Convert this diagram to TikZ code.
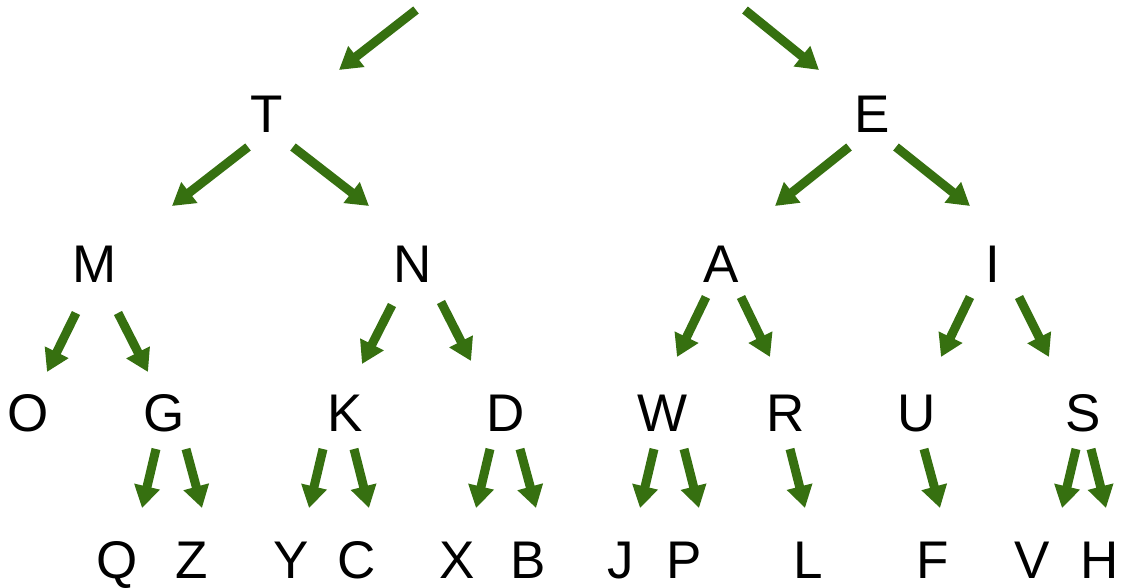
\documentclass[tikz,border=0pt]{standalone}
\usepackage{fontspec}
\setmainfont{Liberation Sans}
\usetikzlibrary{arrows.meta,calc}
\definecolor{arrgreen}{RGB}{54,112,16}
\newcommand\arr[4]{\draw[arrline] ($(#1)+(#2)$) -- ($(#3)+(#4)$);}
\begin{document}
\begin{tikzpicture}[x=1pt,y=-1pt,
  letter/.style={inner sep=0pt,text height=38pt,text depth=0pt,font=\fontsize{53}{60}\selectfont},
  arrline/.style={draw=arrgreen,line width=9pt,-{Triangle[width=25pt,length=22pt]}}]
\useasboundingbox (0,0) rectangle (1125,588);
% level 1
\node[letter] (T) at (267,114) {T};
\node[letter] (E) at (872,114) {E};
% level 2
\node[letter] (M) at (95,264) {M};
\node[letter] (N) at (413,264) {N};
\node[letter] (A) at (721,264) {A};
\node[letter] (I) at (993,264) {I};
% level 3
\node[letter] (O) at (28,412) {O};
\node[letter] (G) at (164,412) {G};
\node[letter] (K) at (345,412) {K};
\node[letter] (D) at (506,412) {D};
\node[letter] (W) at (663,412) {W};
\node[letter] (R) at (786,412) {R};
\node[letter] (U) at (917,412) {U};
\node[letter] (S) at (1083,412) {S};
% level 4
\node[letter] (Q) at (117,559) {Q};
\node[letter] (Z) at (192,559) {Z};
\node[letter] (Y) at (291,559) {Y};
\node[letter] (C) at (357,559) {C};
\node[letter] (X) at (457,559) {X};
\node[letter] (B) at (528,559) {B};
\node[letter] (J) at (621,559) {J};
\node[letter] (P) at (684,559) {P};
\node[letter] (L) at (808,559) {L};
\node[letter] (F) at (933,559) {F};
\node[letter] (V) at (1032,559) {V};
\node[letter] (H) at (1100,559) {H};
% root arrows
\coordinate (r1) at (416,10);
\coordinate (r2) at (745,10);
\arr{r1}{0,0}{T}{72,-44}
\arr{r2}{0,0}{E}{-53,-44}
% level 1 -> 2
\arr{T}{-19,33}{M}{77,-58}
\arr{T}{26,33}{N}{-44,-58}
\arr{E}{-23,33}{A}{54,-58}
\arr{E}{24,33}{I}{-23,-58}
% level 2 -> 3
\arr{M}{-19,49}{O}{19,-40}
\arr{M}{23,49}{G}{-16,-40}
\arr{N}{-21,41}{K}{17,-48}
\arr{N}{28,38}{D}{-35,-51}
\arr{A}{-15,33}{W}{14,-55}
\arr{A}{20,33}{R}{-16,-55}
\arr{I}{-23,33}{U}{24,-55}
\arr{I}{26,33}{S}{-34,-55}
% level 3 -> 4
\arr{G}{-8,37}{Q}{25,-51}
\arr{G}{22,37}{Z}{10,-51}
\arr{K}{-22,37}{Y}{18,-51}
\arr{K}{9,37}{C}{12,-51}
\arr{D}{-16,37}{X}{19,-51}
\arr{D}{14,37}{B}{8,-51}
\arr{W}{-9,37}{J}{19,-51}
\arr{W}{21,37}{P}{15,-51}
\arr{R}{4,37}{L}{-3,-51}
\arr{U}{7,37}{F}{7,-51}
\arr{S}{-7,37}{V}{30,-51}
\arr{S}{8,37}{H}{6,-51}
\end{tikzpicture}
\end{document}
